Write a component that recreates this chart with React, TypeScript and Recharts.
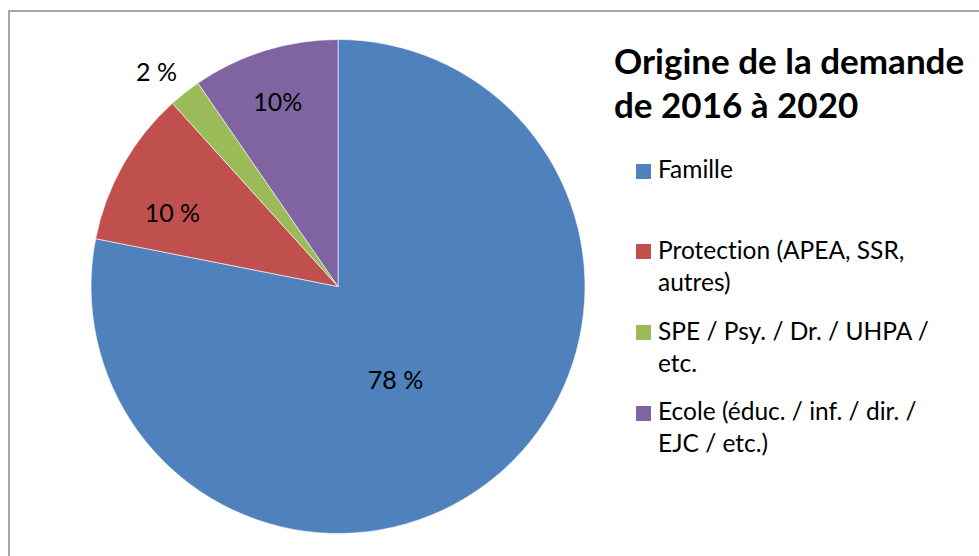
import React from 'react';
import { PieChart, Pie, Cell, Legend } from 'recharts';

const categories = [
  'Famille',
  'Protection (APEA, SSR, autres)',
  'SPE / Psy. / Dr. / UHPA / etc.',
  'Ecole (éduc. / inf. / dir. / EJC / etc.)',
];
const shares = [78.1, 10.2, 2.1, 9.6];
const valueLabels = ['78 %', '10 %', '2 %', '10%'];
const colors = ['#4F81BD', '#C0504D', '#9BBB59', '#8064A2'];
const title = 'Origine de la demande de 2016 à 2020';

const data = categories.map((name, i) => ({ name, value: shares[i], label: valueLabels[i] }));

// label placement (style only)
const labelRadius = [0.44, 0.735, 1.14, 0.79];
const labelAngleShift = [-7.5, 5.3, 1.8, 0.7];
const RAD = Math.PI / 180;
const FONT = 'Lato, "Open Sans", sans-serif';

const renderLabel = (props: any) => {
  const { cx, cy, midAngle, outerRadius, index } = props;
  const a = (midAngle + labelAngleShift[index]) * RAD;
  const r = outerRadius * labelRadius[index];
  const x = cx + r * Math.cos(-a);
  const y = cy + r * Math.sin(-a);
  return (
    <text
      x={x}
      y={y}
      textAnchor="middle"
      dominantBaseline="central"
      fill="#000"
      style={{ fontFamily: FONT, fontSize: 25 }}
    >
      {data[index].label}
    </text>
  );
};

const renderLegend = () => {
  return (
    <div
      style={{
        fontFamily: FONT,
        color: '#000',
        fontVariantLigatures: 'none',
        fontFeatureSettings: '"liga" 0, "clig" 0, "dlig" 0, "calt" 0',
      }}
    >
      <div style={{ fontWeight: 700, fontSize: 35, lineHeight: '44px', width: 365 }}>{title}</div>
      <div style={{ marginTop: 27.5, marginLeft: 22 }}>
        {data.map((d, i) => (
          <div key={i} style={{ display: 'flex', alignItems: 'flex-start', height: 80.8 }}>
            <div
              style={{
                width: 15,
                height: 15,
                background: colors[i],
                marginTop: 10.5,
                marginRight: 7,
                flexShrink: 0,
              }}
            />
            <div style={{ fontSize: 24.5, lineHeight: '32px', width: 280 }}>{d.name}</div>
          </div>
        ))}
      </div>
    </div>
  );
};

export default function App() {
  return (
    <div
      style={{
        position: 'fixed',
        left: 0,
        top: 0,
        width: 979,
        height: 556,
        overflow: 'hidden',
        background: '#fff',
      }}
    >
      <div
        style={{
          position: 'absolute',
          left: 8,
          top: 10,
          width: 1100,
          height: 700,
          border: '2px solid #a6a6a6',
        }}
      />
      <div style={{ position: 'absolute', left: 0, top: 0 }}>
        <PieChart width={979} height={556} margin={{ top: 0, right: 0, bottom: 0, left: 0 }}>
          <Pie
            data={data}
            dataKey="value"
            nameKey="name"
            cx={338}
            cy={286.5}
            outerRadius={247}
            startAngle={90}
            endAngle={-270}
            stroke="#ffffff"
            strokeWidth={0.6}
            label={renderLabel}
            labelLine={false}
            isAnimationActive={false}
          >
            {data.map((d, i) => (
              <Cell key={i} fill={colors[i]} />
            ))}
          </Pie>
          <Legend
            content={renderLegend}
            layout="vertical"
            align="right"
            verticalAlign="top"
            wrapperStyle={{ position: 'absolute', left: 614, top: 37.5, width: 365, right: 'auto' }}
          />
        </PieChart>
      </div>
    </div>
  );
}
